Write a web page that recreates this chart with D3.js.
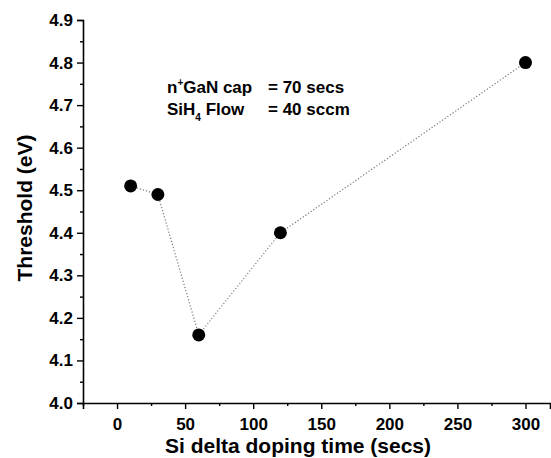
<!DOCTYPE html>
<html>
<head>
<meta charset="utf-8">
<script src="https://cdn.jsdelivr.net/npm/d3@7"></script>
<style>
  body { margin: 0; background: #fff; }
  svg text { font-family: "Liberation Sans", Arial, sans-serif; font-weight: bold; fill: #000; }
  .tick text { font-size: 17px; }
</style>
</head>
<body>
<svg class="chart"></svg>
<script>
// values
var dopingTime = [10, 30, 60, 120, 300];
var threshold = [4.51, 4.49, 4.16, 4.40, 4.80];
var xTicks = [0, 50, 100, 150, 200, 250, 300];
var yTicks = [4.0, 4.1, 4.2, 4.3, 4.4, 4.5, 4.6, 4.7, 4.8, 4.9];
var xMinor = [-25, 25, 75, 125, 175, 225, 275];
var yMinor = [4.05, 4.15, 4.25, 4.35, 4.45, 4.55, 4.65, 4.75, 4.85];

window.onload = function () {
    var width = 551, height = 458;
    var svg = d3.select("svg.chart").attr("width", width).attr("height", height);

    var x = d3.scaleLinear().domain([-25, 318]).range([83, 550]);
    var y = d3.scaleLinear().domain([4.0, 4.9]).range([403, 20]);

    // minor ticks first, without any labels
    var xm = svg.append("g").attr("class", "minor").attr("transform", "translate(0," + y(4.0) + ")")
        .call(d3.axisBottom(x).tickValues(xMinor).tickSize(3));
    var ym = svg.append("g").attr("class", "minor").attr("transform", "translate(" + x(-25) + ",0)")
        .call(d3.axisLeft(y).tickValues(yMinor).tickSize(3));
    svg.selectAll(".minor text").remove();
    svg.selectAll(".minor .domain").remove();

    // main axes
    var xAxis = svg.append("g").attr("transform", "translate(0," + y(4.0) + ")")
        .call(d3.axisBottom(x).tickValues(xTicks).tickSize(6).tickPadding(9).tickFormat(d3.format("d")));
    var yAxis = svg.append("g").attr("transform", "translate(" + x(-25) + ",0)")
        .call(d3.axisLeft(y).tickValues(yTicks).tickSize(6).tickPadding(4).tickFormat(d3.format(".1f")));

    svg.selectAll(".domain").attr("stroke", "#000").attr("stroke-width", 1.6);
    svg.selectAll(".tick line").attr("stroke", "#000").attr("stroke-width", 1.4);

    // dotted line through the points
    var pts = dopingTime.map((t, i) => [t, threshold[i]]);
    svg.append("path")
        .datum(pts)
        .attr("fill", "none")
        .attr("stroke", "#777")
        .attr("stroke-width", 1.2)
        .attr("stroke-dasharray", "1.2,2")
        .attr("d", d3.line().x(d => x(d[0])).y(d => y(d[1])));

    svg.selectAll("circle.pt")
        .data(pts)
        .enter().append("circle")
        .attr("class", "pt")
        .attr("cx", d => x(d[0]))
        .attr("cy", d => y(d[1]))
        .attr("r", 6.5)
        .attr("fill", "#000");

    // annotation
    var note = svg.append("g").style("font-size", "17px");
    var t1 = note.append("text").attr("x", 167).attr("y", 93);
    t1.append("tspan").text("n");
    t1.append("tspan").attr("dy", -7).style("font-size", "10px").text("+");
    t1.append("tspan").attr("dy", 7).text("GaN cap");
    note.append("text").attr("x", 268).attr("y", 93).text("= 70 secs");
    var t2 = note.append("text").attr("x", 167).attr("y", 115);
    t2.append("tspan").text("SiH");
    t2.append("tspan").attr("dy", 6).style("font-size", "10px").text("4");
    t2.append("tspan").attr("dy", -6).text(" Flow");
    note.append("text").attr("x", 268).attr("y", 115).text("= 40 sccm");

    // axis titles
    svg.append("text")
        .attr("x", 298).attr("y", 453)
        .attr("text-anchor", "middle")
        .style("font-size", "21px")
        .text("Si delta doping time (secs)");
    svg.append("text")
        .attr("transform", "translate(32,208) rotate(-90)")
        .attr("text-anchor", "middle")
        .style("font-size", "21px")
        .text("Threshold (eV)");
};
</script>
</body>
</html>
